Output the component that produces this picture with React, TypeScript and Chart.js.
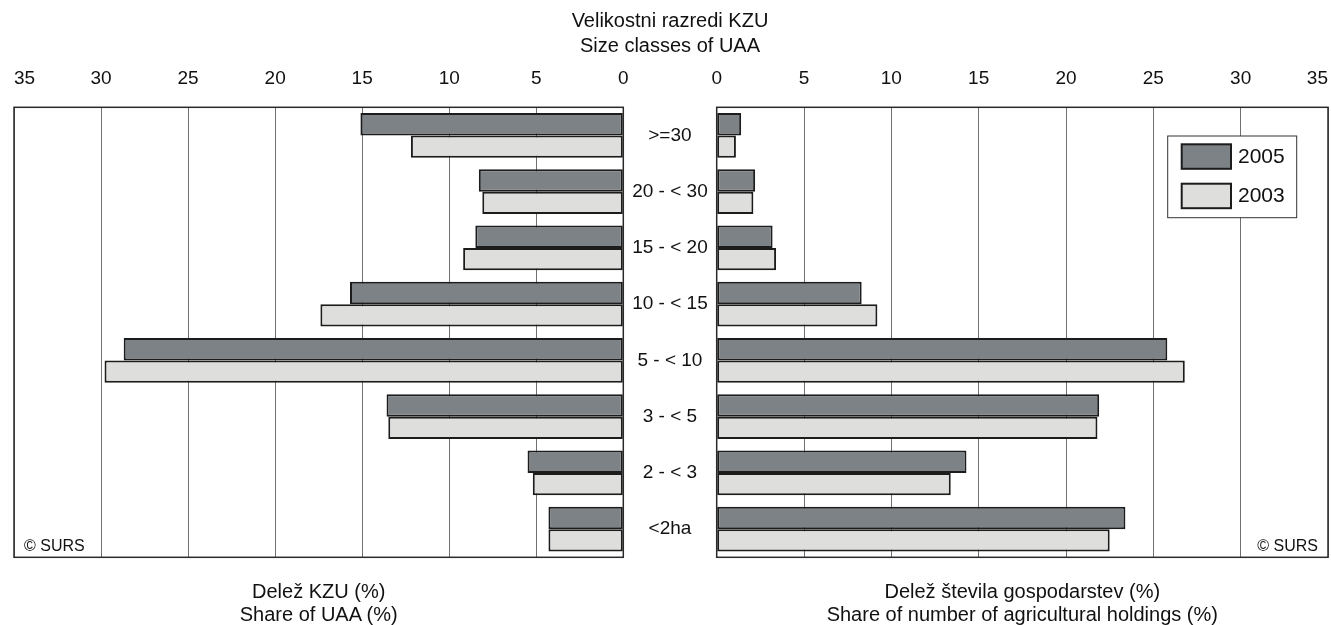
import React, { useEffect, useRef } from 'react';
import { Chart, registerables } from 'chart.js';

Chart.register(...registerables);

// ---------- data ----------
const categories = ['>=30', '20 - < 30', '15 - < 20', '10 - < 15', '5 - < 10', '3 - < 5', '2 - < 3', '<2ha'];
const seriesLabels = ['2005', '2003'];
const uaaShare2005 = [15.1, 8.3, 8.5, 15.7, 28.7, 13.6, 5.5, 4.3];
const uaaShare2003 = [12.2, 8.1, 9.2, 17.4, 29.8, 13.5, 5.2, 4.3];
const holdingsShare2005 = [1.4, 2.2, 3.2, 8.3, 25.8, 21.9, 14.3, 23.4];
const holdingsShare2003 = [1.1, 2.1, 3.4, 9.2, 26.8, 21.8, 13.4, 22.5];
const axisMin = 0;
const axisMax = 35;
const axisStep = 5;
const topTitle = ['Velikostni razredi KZU', 'Size classes of UAA'];
const leftTitle = ['Delež KZU (%)', 'Share of UAA (%)'];
const rightTitle = ['Delež števila gospodarstev (%)', 'Share of number of agricultural holdings (%)'];
const sourceNote = '© SURS';

// ---------- styles ----------
const FONT = "'Liberation Sans', Arial, Helvetica, sans-serif";
const TEXT = '#111111';
const DARK = '#7c8286';
const LIGHT = '#dededc';
const BAR_BORDER = '#1c1c1c';
const FIG_SPACE = '\u2007';

const framePlugin = {
  id: 'frameBox',
  afterDatasetsDraw(chart: any) {
    const { ctx, chartArea } = chart;
    ctx.save();
    ctx.strokeStyle = '#2a2a2a';
    ctx.lineWidth = 1.5;
    ctx.strokeRect(chartArea.left, chartArea.top, chartArea.right - chartArea.left, chartArea.bottom - chartArea.top);
    ctx.restore();
  },
};

const notePlugin = {
  id: 'sourceNote',
  afterDatasetsDraw(chart: any, _args: any, opts: any) {
    if (!opts || !opts.text) return;
    const { ctx, chartArea } = chart;
    ctx.save();
    ctx.font = `16px ${FONT}`;
    ctx.fillStyle = TEXT;
    ctx.textBaseline = 'alphabetic';
    if (opts.side === 'right') {
      ctx.textAlign = 'right';
      ctx.fillText(opts.text, chartArea.right - 10, chartArea.bottom - 6);
    } else {
      ctx.textAlign = 'left';
      ctx.fillText(opts.text, chartArea.left + 10, chartArea.bottom - 6);
    }
    ctx.restore();
  },
};

const boxLegendPlugin = {
  id: 'boxLegend',
  afterDraw(chart: any, _args: any, opts: any) {
    if (!opts || !opts.show) return;
    const { ctx, chartArea } = chart;
    const w = 129;
    const h = 81.7;
    const x = chartArea.right - 31.3 - w;
    const y = chartArea.top + 28.7;
    ctx.save();
    ctx.fillStyle = '#ffffff';
    ctx.fillRect(x, y, w, h);
    ctx.strokeStyle = '#333333';
    ctx.lineWidth = 1;
    ctx.strokeRect(x, y, w, h);
    chart.data.datasets.forEach((ds: any, i: number) => {
      const sy = y + 8.3 + i * 39.4;
      ctx.fillStyle = ds.backgroundColor;
      ctx.fillRect(x + 14, sy, 49.3, 24.5);
      ctx.strokeStyle = BAR_BORDER;
      ctx.lineWidth = 2;
      ctx.strokeRect(x + 14, sy, 49.3, 24.5);
      ctx.fillStyle = TEXT;
      ctx.font = `21px ${FONT}`;
      ctx.textAlign = 'left';
      ctx.textBaseline = 'middle';
      ctx.fillText(ds.label, x + 70.3, sy + 13);
    });
    ctx.restore();
  },
};

function makeDatasets(a: number[], b: number[]) {
  return [
    {
      label: seriesLabels[0],
      data: a,
      backgroundColor: DARK,
      borderColor: BAR_BORDER,
      borderWidth: 2,
      borderSkipped: false,
      categoryPercentage: 0.793,
      barPercentage: 1,
    },
    {
      label: seriesLabels[1],
      data: b,
      backgroundColor: LIGHT,
      borderColor: BAR_BORDER,
      borderWidth: 2,
      borderSkipped: false,
      categoryPercentage: 0.793,
      barPercentage: 1,
    },
  ];
}

// The outermost label (35) sits inside the plot edge, as in the original.
function xScale(reverse: boolean) {
  return {
    type: 'linear',
    position: 'top',
    min: axisMin,
    max: axisMax,
    reverse,
    ticks: {
      stepSize: axisStep,
      padding: 17,
      color: TEXT,
      font: { size: 19, family: FONT },
      maxRotation: 0,
      autoSkip: false,
      callback: (v: any) => {
        const s = String(v);
        if (Number(v) !== axisMax) return s;
        return reverse ? FIG_SPACE + FIG_SPACE + s : s + FIG_SPACE + FIG_SPACE;
      },
    },
    grid: { color: '#707070', lineWidth: 1, drawTicks: false },
    border: { display: false },
    afterFit: (s: any) => {
      s.height = 40;
      s.paddingLeft = 0;
      s.paddingRight = 0;
    },
  };
}

export default function App() {
  const leftRef = useRef<HTMLCanvasElement | null>(null);
  const rightRef = useRef<HTMLCanvasElement | null>(null);

  useEffect(() => {
    Chart.defaults.font.family = FONT;
    Chart.defaults.color = TEXT;

    const left = new Chart(leftRef.current as HTMLCanvasElement, {
      type: 'bar',
      data: { labels: categories, datasets: makeDatasets(uaaShare2005, uaaShare2003) as any },
      options: {
        indexAxis: 'y',
        responsive: false,
        animation: false,
        layout: { padding: { left: 14, right: 16.7, top: 67.3, bottom: 67.7 } },
        plugins: {
          legend: { display: false },
          tooltip: { enabled: false },
          sourceNote: { text: sourceNote, side: 'left' },
        } as any,
        scales: {
          x: xScale(true),
          y: { type: 'category', display: false },
        } as any,
      },
      plugins: [framePlugin, notePlugin],
    });

    const right = new Chart(rightRef.current as HTMLCanvasElement, {
      type: 'bar',
      data: { labels: categories, datasets: makeDatasets(holdingsShare2005, holdingsShare2003) as any },
      options: {
        indexAxis: 'y',
        responsive: false,
        animation: false,
        layout: { padding: { left: 23.3, right: 3, top: 67.3, bottom: 67.7 } },
        plugins: {
          legend: { display: false },
          tooltip: { enabled: false },
          sourceNote: { text: sourceNote, side: 'right' },
          boxLegend: { show: true },
        } as any,
        scales: {
          x: xScale(false),
          y: {
            type: 'category',
            position: 'left',
            grid: { display: false, drawTicks: false },
            border: { display: false },
            ticks: { crossAlign: 'center', padding: 9, color: TEXT, font: { size: 19, family: FONT } },
            afterFit: (s: any) => {
              s.width = 93.4;
            },
          },
        } as any,
      },
      plugins: [framePlugin, notePlugin, boxLegendPlugin],
    });

    return () => {
      left.destroy();
      right.destroy();
    };
  }, []);

  const textBase: React.CSSProperties = {
    position: 'absolute',
    fontFamily: FONT,
    color: TEXT,
    fontSize: 20,
    textAlign: 'center',
    whiteSpace: 'nowrap',
  };

  return (
    <div
      style={{
        position: 'absolute',
        left: 0,
        top: 0,
        width: 1331,
        height: 625,
        overflow: 'hidden',
        background: '#ffffff',
      }}
    >
      <canvas ref={leftRef} width={640} height={625} style={{ position: 'absolute', left: 0, top: 0, display: 'block' }} />
      <canvas ref={rightRef} width={731} height={625} style={{ position: 'absolute', left: 600, top: 0, display: 'block' }} />
      <div style={{ ...textBase, left: 420, width: 500, top: 8, lineHeight: '25px' }}>
        {topTitle.map((t) => (
          <div key={t}>{t}</div>
        ))}
      </div>
      <div style={{ ...textBase, left: 68.7, width: 500, top: 580, lineHeight: '23px' }}>
        {leftTitle.map((t) => (
          <div key={t}>{t}</div>
        ))}
      </div>
      <div style={{ ...textBase, left: 772.3, width: 500, top: 580, lineHeight: '23px' }}>
        {rightTitle.map((t) => (
          <div key={t}>{t}</div>
        ))}
      </div>
    </div>
  );
}
